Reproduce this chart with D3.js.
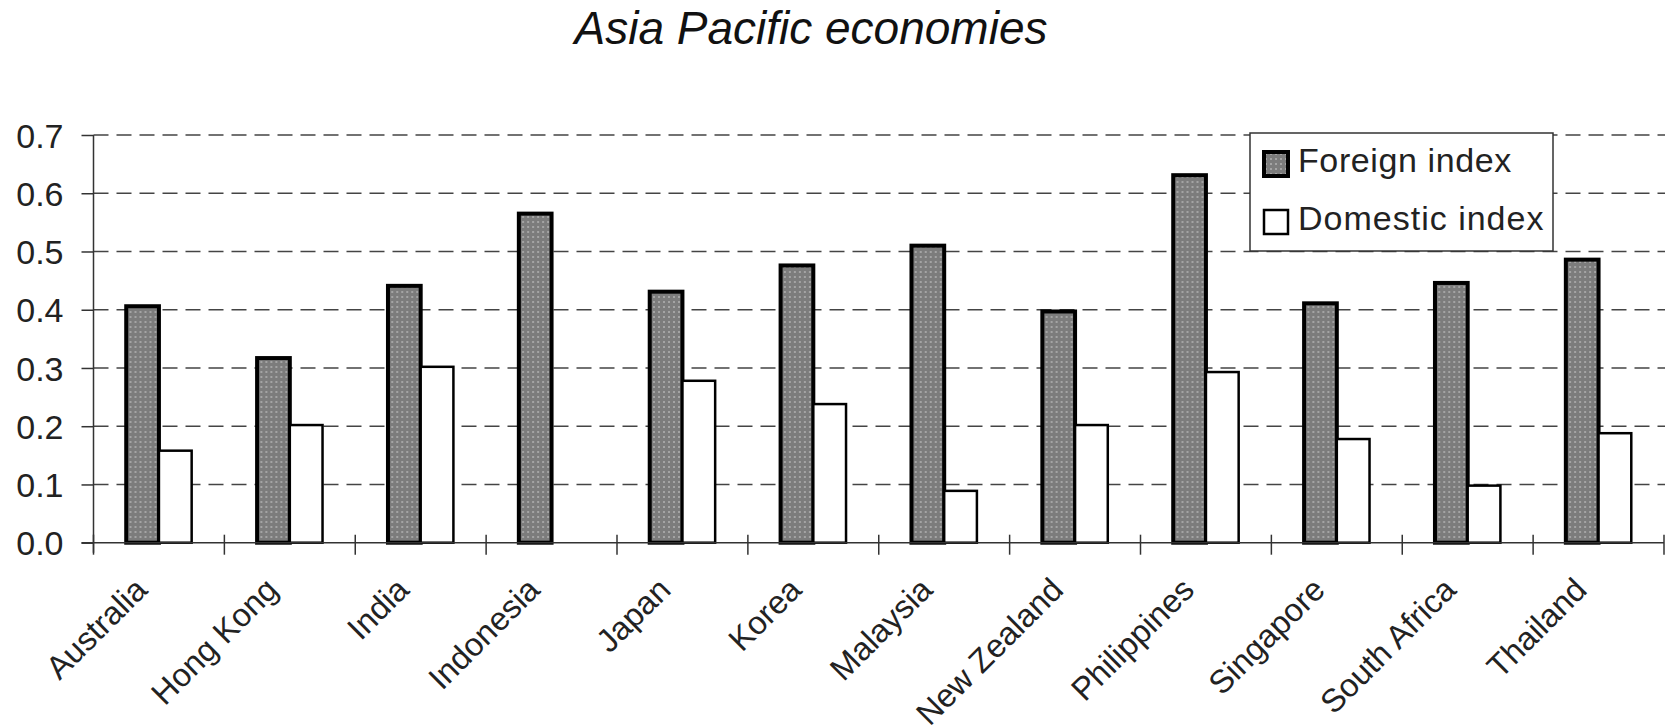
<!DOCTYPE html>
<html>
<head>
<meta charset="utf-8">
<script src="https://cdn.jsdelivr.net/npm/d3@7"></script>
<style>
  body { margin: 0; background: #fff; }
  svg { display: block; font-family: "Liberation Sans", Arial, sans-serif; }
</style>
</head>
<body>
<div id="chart"></div>
<script>
// chart data
var countries = ["Australia", "Hong Kong", "India", "Indonesia", "Japan", "Korea",
                 "Malaysia", "New Zealand", "Philippines", "Singapore", "South Africa", "Thailand"];
var foreignIndex  = [0.406, 0.317, 0.441, 0.565, 0.431, 0.476, 0.510, 0.397, 0.631, 0.411, 0.446, 0.486];
var domesticIndex = [0.158, 0.202, 0.302, 0,     0.278, 0.238, 0.089, 0.202, 0.293, 0.178, 0.098, 0.188];
var seriesNames = ["Foreign index", "Domestic index"];
var yTicks = [0, 0.1, 0.2, 0.3, 0.4, 0.5, 0.6, 0.7];

var chartW = 1665, chartH = 728;
var plotLeft = 93.5, plotRight = 1664, plotTop = 135, plotBottom = 542.7;

var svg = d3.select("#chart").append("svg")
    .attr("width", chartW)
    .attr("height", chartH);

// dotted grey fill like the original
var defs = svg.append("defs");
var pat = defs.append("pattern")
    .attr("id", "dots")
    .attr("patternUnits", "userSpaceOnUse")
    .attr("width", 5).attr("height", 5);
pat.append("rect").attr("width", 5).attr("height", 5).attr("fill", "#7c7c7c");
pat.append("rect").attr("x", 1).attr("y", 1).attr("width", 2).attr("height", 2).attr("fill", "#a4a4a4");

var x = d3.scaleBand().domain(countries).range([plotLeft, plotRight]).padding(0);
var xs = d3.scaleBand().domain(seriesNames).range([0, x.bandwidth()])
    .paddingInner(0).paddingOuter(1);
var y = d3.scaleLinear().domain([0, 0.7]).range([plotBottom, plotTop]);

// title
svg.append("text")
    .attr("x", 811).attr("y", 44)
    .attr("text-anchor", "middle")
    .style("font-size", "46px")
    .style("font-style", "italic")
    .attr("fill", "#111")
    .text("Asia Pacific economies");

// gridlines
svg.append("g").selectAll("line")
    .data(yTicks.filter(function(d){ return d > 0; }))
    .enter().append("line")
    .attr("x1", plotLeft).attr("x2", chartW)
    .attr("y1", function(d){ return y(d); })
    .attr("y2", function(d){ return y(d); })
    .attr("stroke", "#444")
    .attr("stroke-width", 1.5)
    .attr("stroke-dasharray", "15,8");

// y axis
var yAxis = svg.append("g")
    .attr("transform", "translate(" + plotLeft + ",0)")
    .call(d3.axisLeft(y).tickValues(yTicks).tickFormat(d3.format(".1f")).tickSize(12).tickPadding(18));
yAxis.select(".domain").remove();
yAxis.selectAll(".tick line").attr("stroke", "#333").attr("stroke-width", 1.5);
yAxis.selectAll(".tick text")
    .style("font-size", "34px")
    .attr("fill", "#222")
    .attr("dy", "0.36em");
svg.append("line")
    .attr("x1", plotLeft).attr("x2", plotLeft)
    .attr("y1", plotTop).attr("y2", plotBottom + 10)
    .attr("stroke", "#333").attr("stroke-width", 1.5);

// bars
var groups = svg.append("g").selectAll("g")
    .data(countries)
    .enter().append("g")
    .attr("transform", function(d){ return "translate(" + x(d) + ",0)"; });

groups.append("rect")
    .attr("x", xs("Foreign index"))
    .attr("width", xs.bandwidth())
    .attr("y", function(d, i){ return y(foreignIndex[i]); })
    .attr("height", function(d, i){ return y(0) - y(foreignIndex[i]); })
    .attr("fill", "url(#dots)")
    .attr("stroke", "#000")
    .attr("stroke-width", 4);

groups.filter(function(d, i){ return domesticIndex[i] > 0; })
    .append("rect")
    .attr("x", xs("Domestic index"))
    .attr("width", xs.bandwidth())
    .attr("y", function(d){ return y(domesticIndex[countries.indexOf(d)]); })
    .attr("height", function(d){ return y(0) - y(domesticIndex[countries.indexOf(d)]); })
    .attr("fill", "#fff")
    .attr("stroke", "#000")
    .attr("stroke-width", 2.5);

// x axis
svg.append("line")
    .attr("x1", plotLeft - 12).attr("x2", plotRight)
    .attr("y1", plotBottom).attr("y2", plotBottom)
    .attr("stroke", "#333").attr("stroke-width", 1.5);
svg.append("g").selectAll("line")
    .data(countries.concat(["_end"]))
    .enter().append("line")
    .attr("x1", function(d){ return d === "_end" ? plotRight : x(d); })
    .attr("x2", function(d){ return d === "_end" ? plotRight : x(d); })
    .attr("y1", plotBottom - 8).attr("y2", plotBottom + 12)
    .attr("stroke", "#333").attr("stroke-width", 1.5);

svg.append("g").selectAll("text")
    .data(countries)
    .enter().append("text")
    .attr("transform", function(d){
        return "translate(" + (x(d) + x.bandwidth() / 2 - 10) + "," + (plotBottom + 49) + ") rotate(-45)";
    })
    .attr("text-anchor", "end")
    .style("font-size", "32.5px")
    .attr("fill", "#222")
    .text(function(d){ return d; });

// legend
var legend = svg.append("g");
legend.append("rect")
    .attr("x", 1250).attr("y", 133)
    .attr("width", 303).attr("height", 118)
    .attr("fill", "#fff")
    .attr("stroke", "#333").attr("stroke-width", 1.5);

var items = legend.selectAll("g.item")
    .data(seriesNames)
    .enter().append("g")
    .attr("class", "item")
    .attr("transform", function(d, i){ return "translate(1264," + (152 + i * 58) + ")"; });
items.append("rect")
    .attr("width", 24).attr("height", 24)
    .attr("fill", function(d, i){ return i === 0 ? "url(#dots)" : "#fff"; })
    .attr("stroke", "#000")
    .attr("stroke-width", function(d, i){ return i === 0 ? 4 : 2.5; });
items.append("text")
    .attr("x", 34).attr("y", 20)
    .style("font-size", "34px")
    .style("letter-spacing", function(d, i){ return i === 1 ? "1px" : "0.6px"; })
    .attr("fill", "#222")
    .text(function(d){ return d; });
</script>
</body>
</html>
